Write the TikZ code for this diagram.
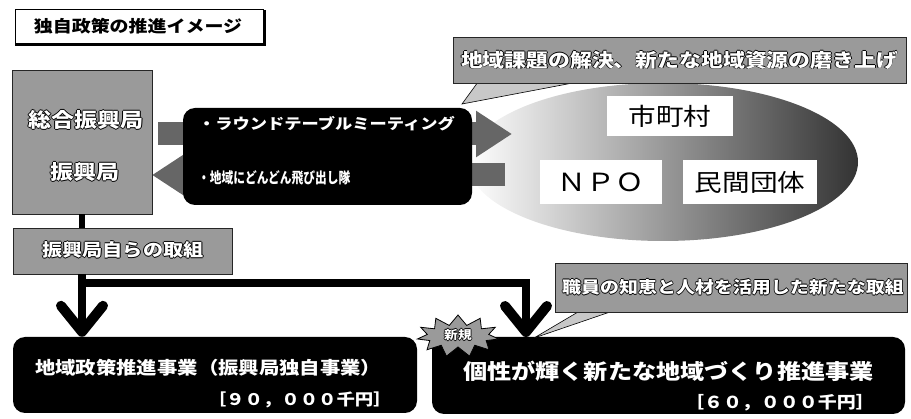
\documentclass[tikz,border=0pt]{standalone}
\usepackage{fontspec}
\setmainfont{Noto Sans CJK JP}[FakeStretch=1.15]
\usetikzlibrary{shapes.geometric,shapes.symbols,arrows.meta,calc}
\definecolor{boxgray}{HTML}{9A9A9A}
\definecolor{arrowgray}{HTML}{666666}
\definecolor{wedgegray}{HTML}{C8C8C8}
\newcommand\olt[1]{\leavevmode
  \rlap{\kern0.8pt\textcolor{black}{#1}}%
  \rlap{\kern-0.8pt\textcolor{black}{#1}}%
  \rlap{\raisebox{0.8pt}{\textcolor{black}{#1}}}%
  \rlap{\raisebox{-0.8pt}{\textcolor{black}{#1}}}%
  \textcolor{white}{#1}}
\newcommand\fs[1]{\fontsize{#1}{#1}\selectfont}
\tikzset{
  graybox/.style={draw=black!85, line width=0.8pt, fill=boxgray, inner sep=0pt},
  blackbox/.style={fill=black, rounded corners=12pt, inner sep=0pt},
  whitebox/.style={fill=white, inner sep=0pt},
  txt/.style={inner sep=0pt},
  bigarrow/.style={line width=8pt, -{Straight Barb[length=26pt, width=42pt, line width=10pt, round]}},
  grayarrow/.style={line width=23pt, draw=arrowgray, -{Triangle[length=36pt, width=44pt]}},
  wedge/.style={fill=wedgegray, draw=black, line width=0.6pt},
}
\begin{document}
\begin{tikzpicture}[x=1pt,y=-1pt]
\useasboundingbox (0,0) rectangle (911,419);
% ellipse of partners
\node[ellipse, minimum width=390pt, minimum height=158pt, left color=white, middle color=gray!45, right color=black!80, inner sep=0pt] (groups) at (663,162) {};
% callout 1
\coordinate (w1a) at (478,82);
\coordinate (w1b) at (578,82);
\coordinate (w1t) at (462,104);
\draw[wedge] (w1a) -- (w1t) -- (w1b);
\node[graybox, minimum width=453pt, minimum height=46pt] (call1) at (679.5,60) {};
\node[txt] (call1t) at (call1) {\fs{19}\bfseries\olt{地域課題の解決、新たな地域資源の磨き上げ}};
% gray arrows
\coordinate (ra1) at (158,134);
\coordinate (ra2) at (512,134);
\coordinate (la1) at (505,175);
\coordinate (la2) at (152,175);
\draw[grayarrow] (ra1) -- (ra2);
\draw[grayarrow] (la1) -- (la2);
% central black box
\node[blackbox, minimum width=289pt, minimum height=97pt] (mid) at (327.5,156.5) {};
\node[txt, anchor=west, text=white] (mid1) at (198,124) {\fs{15}\bfseries ・ラウンドテーブルミーティング};
\node[txt, anchor=west, text=white] (mid2) at (198,178) {\fs{15}\bfseries\scalebox{0.68}[1]{・地域にどんどん飛び出し隊}};
% white boxes in ellipse
\node[whitebox, minimum width=126pt, minimum height=40pt] (shi) at (670,116) {\fs{24}市町村};
\node[whitebox, minimum width=122pt, minimum height=44pt] (npo) at (601,182) {\fs{25}ＮＰＯ};
\node[whitebox, minimum width=134pt, minimum height=44pt] (min) at (750,182) {\fs{24}民間団体};
% title
\node[draw=black, line width=1pt, fill=white, minimum width=248pt, minimum height=34pt, inner sep=0pt] (title) at (139,27) {};
\draw[line width=2pt] ([xshift=1pt,yshift=-1pt]title.north east) -- ([xshift=1pt,yshift=-1pt]title.south east) -- ([yshift=-1pt]title.south west);
\node[txt] (titlet) at (138,26) {\fs{16.5}\bfseries 独自政策の推進イメージ};
% left gray box
\node[graybox, minimum width=140pt, minimum height=144pt] (sinko) at (82,142) {};
\node[txt] (sinko1) at (86,120) {\fs{20}\bfseries\olt{総合振興局}};
\node[txt] (sinko2) at (85,172) {\fs{20}\bfseries\olt{振興局}};
% own activities box
\node[graybox, minimum width=219pt, minimum height=46pt] (jisaku) at (122.5,251) {};
\node[txt] (jisakut) at (123,250) {\fs{17.5}\bfseries\olt{振興局自らの取組}};
\draw[line width=6pt] (sinko.south) -- (sinko.south |- jisaku.north);
% bottom boxes
\node[blackbox, minimum width=404pt, minimum height=76pt] (local) at (215,375) {};
\node[txt, anchor=west, text=white] (local1) at (35,368) {\fs{17.7}\bfseries 地域政策推進事業（振興局独自事業）};
\node[txt, anchor=east, text=white] (local2) at (392,400) {\fs{16}\bfseries ［９０，０００千円］};
\node[blackbox, minimum width=473pt, minimum height=77pt] (newbiz) at (668.5,375.5) {};
\node[txt, anchor=west, text=white] (new1) at (463,371) {\fs{21}\bfseries 個性が輝く新たな地域づくり推進事業};
\node[txt, anchor=east, text=white] (new2) at (875,403) {\fs{16.5}\bfseries ［６０，０００千円］};
% thick black arrows
\coordinate (rtop) at (526,283);
\coordinate (rt) at (526,337);
\draw[bigarrow] (jisaku.south -| sinko.south) -- (local.north -| sinko.south);
\draw[bigarrow] (jisaku.south -| sinko.south) |- (rtop) -- (rt);
% callout 2
\coordinate (w2a) at (578,312);
\coordinate (w2b) at (610,312);
\coordinate (w2t) at (534,338);
\draw[wedge] (w2a) -- (w2t) -- (w2b);
\node[graybox, minimum width=352pt, minimum height=49pt] (call2) at (731,287.5) {};
\node[txt] (call2t) at (733,287) {\fs{16.5}\bfseries\olt{職員の知恵と人材を活用した新たな取組}};
% star
\node[starburst, starburst points=11, starburst point height=10pt, random starburst=0, fill=boxgray, draw=black, line width=0.8pt, minimum width=82pt, minimum height=42pt, inner sep=0pt] (star) at (458,336) {};
\node[txt] (start) at (458,335) {\fs{12}\bfseries\olt{新規}};
\end{tikzpicture}
\end{document}
